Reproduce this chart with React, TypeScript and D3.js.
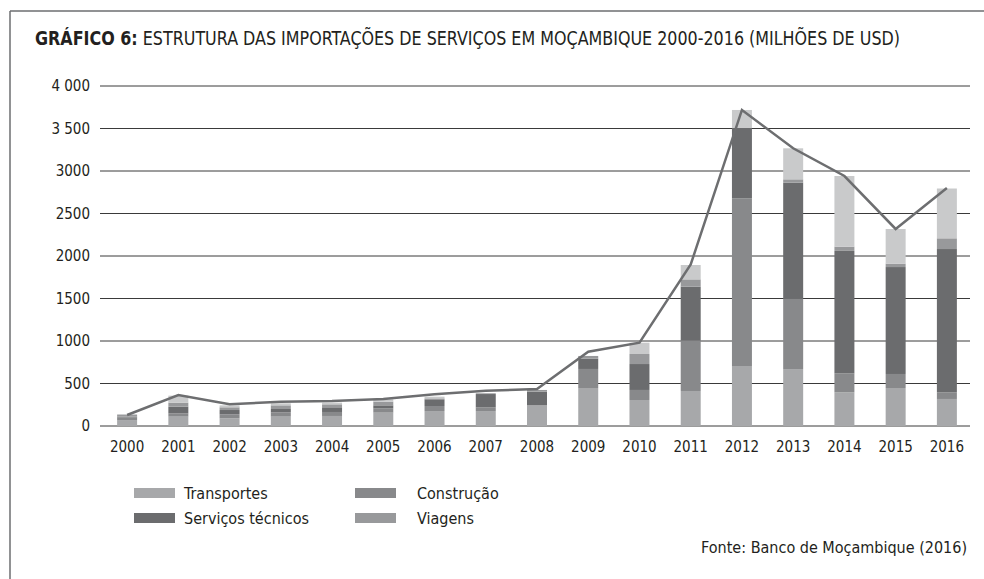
import { useEffect } from 'react';
import * as d3 from 'd3';

// Values (milhões de USD)
const years = ['2000', '2001', '2002', '2003', '2004', '2005', '2006', '2007', '2008', '2009', '2010', '2011', '2012', '2013', '2014', '2015', '2016'];
const transportes = [70, 110, 90, 110, 118, 157, 176, 176, 243, 447, 306, 412, 706, 670, 396, 447, 318];
const construcao = [30, 39, 47, 51, 47, 51, 59, 44, 0, 224, 118, 592, 1973, 832, 224, 165, 78];
const servicosTecnicos = [10, 78, 51, 39, 55, 35, 79, 156, 161, 121, 305, 635, 831, 1361, 1440, 1258, 1686];
const viagens = [20, 48, 32, 43, 35, 43, 11, 9, 20, 32, 118, 86, 0, 39, 50, 40, 126];
const outros = [11, 82, 23, 24, 20, 28, 20, 0, 0, 0, 133, 169, 208, 365, 831, 408, 586];
const totalLine = [129, 365, 255, 286, 294, 318, 373, 415, 435, 874, 980, 1900, 3718, 3267, 2941, 2318, 2800];

const yTicks = [0, 500, 1000, 1500, 2000, 2500, 3000, 3500, 4000];
const yTickLabels = ['0', '500', '1000', '1500', '2000', '2500', '3000', '3 500', '4 000'];

const seriesKeys = ['transportes', 'construcao', 'servicos', 'viagens', 'outros'];
const seriesColors = ['#a7a8aa', '#88898b', '#6b6c6e', '#98999b', '#c9cacb'];
const legendItems = [
  { label: 'Transportes', color: '#a7a8aa' },
  { label: 'Construção', color: '#88898b' },
  { label: 'Serviços técnicos', color: '#6b6c6e' },
  { label: 'Viagens', color: '#98999b' },
];

const FONT = '"Liberation Sans Narrow", "DejaVu Sans Condensed", "Roboto", sans-serif';

export default function App() {
  useEffect(() => {
    document.body.style.margin = '0';
  }, []);

  const width = 984;
  const height = 579;

  const x = d3.scaleBand<string>().domain(years).range([101.5, 972.5]).paddingInner(0.61).paddingOuter(0.305);
  const y = d3.scaleLinear().domain([0, 4000]).range([426, 86]);

  const rows = years.map((yr, i) => ({
    year: yr,
    transportes: transportes[i],
    construcao: construcao[i],
    servicos: servicosTecnicos[i],
    viagens: viagens[i],
    outros: outros[i],
  }));
  const stacked = d3.stack<any>().keys(seriesKeys)(rows);

  const line = d3
    .line<number>()
    .x((_, i) => (x(years[i]) ?? 0) + x.bandwidth() / 2)
    .y((d) => y(d));

  return (
    <svg width={width} height={height} style={{ display: 'block', fontFamily: FONT }}>
      <rect x={0} y={0} width={width} height={height} fill="#fff" />
      {/* frame */}
      <line x1={10} y1={11} x2={984} y2={11} stroke="#6d6e70" strokeWidth={1.5} />
      <line x1={10} y1={11} x2={10} y2={579} stroke="#6d6e70" strokeWidth={1.5} />

      <text x={35} y={45} fontSize={19} fill="#231f20" textLength={865} lengthAdjust="spacingAndGlyphs">
        <tspan fontWeight="bold">GRÁFICO 6:</tspan> ESTRUTURA DAS IMPORTAÇÕES DE SERVIÇOS EM MOÇAMBIQUE 2000-2016 (MILHÕES DE USD)
      </text>

      {/* gridlines + y labels */}
      {yTicks.map((t, i) => (
        <g key={t}>
          <line x1={100} x2={970} y1={y(t)} y2={y(t)} stroke="#3a3a3a" strokeWidth={1} />
          <text x={90} y={y(t)} dy="0.35em" textAnchor="end" fontSize={15} fill="#231f20">
            {yTickLabels[i]}
          </text>
        </g>
      ))}

      {/* stacked bars */}
      {stacked.map((layer, li) => (
        <g key={layer.key} fill={seriesColors[li]}>
          {layer.map((d, i) => (
            <rect
              key={years[i]}
              x={x(years[i])}
              y={y(d[1])}
              width={x.bandwidth()}
              height={Math.max(0, y(d[0]) - y(d[1]))}
            />
          ))}
        </g>
      ))}

      <path d={line(totalLine) ?? ''} fill="none" stroke="#6d6e70" strokeWidth={2.5} strokeLinejoin="miter" />

      {/* x labels */}
      {years.map((yr) => (
        <text key={yr} x={(x(yr) ?? 0) + x.bandwidth() / 2} y={447} dy="0.35em" textAnchor="middle" fontSize={15} fill="#231f20">
          {yr}
        </text>
      ))}

      {/* legend */}
      {legendItems.map((it, i) => {
        const col = i % 2;
        const row = Math.floor(i / 2);
        const sx = col === 0 ? 134 : 355;
        const tx = col === 0 ? 184 : 417;
        const cy = 493 + row * 25;
        return (
          <g key={it.label}>
            <rect x={sx} y={cy - 5} width={41} height={10} fill={it.color} />
            <text x={tx} y={cy} dy="0.35em" fontSize={16} fill="#231f20">
              {it.label}
            </text>
          </g>
        );
      })}

      <text x={967} y={547} dy="0.35em" textAnchor="end" fontSize={16} fill="#231f20">
        Fonte: Banco de Moçambique (2016)
      </text>
    </svg>
  );
}
